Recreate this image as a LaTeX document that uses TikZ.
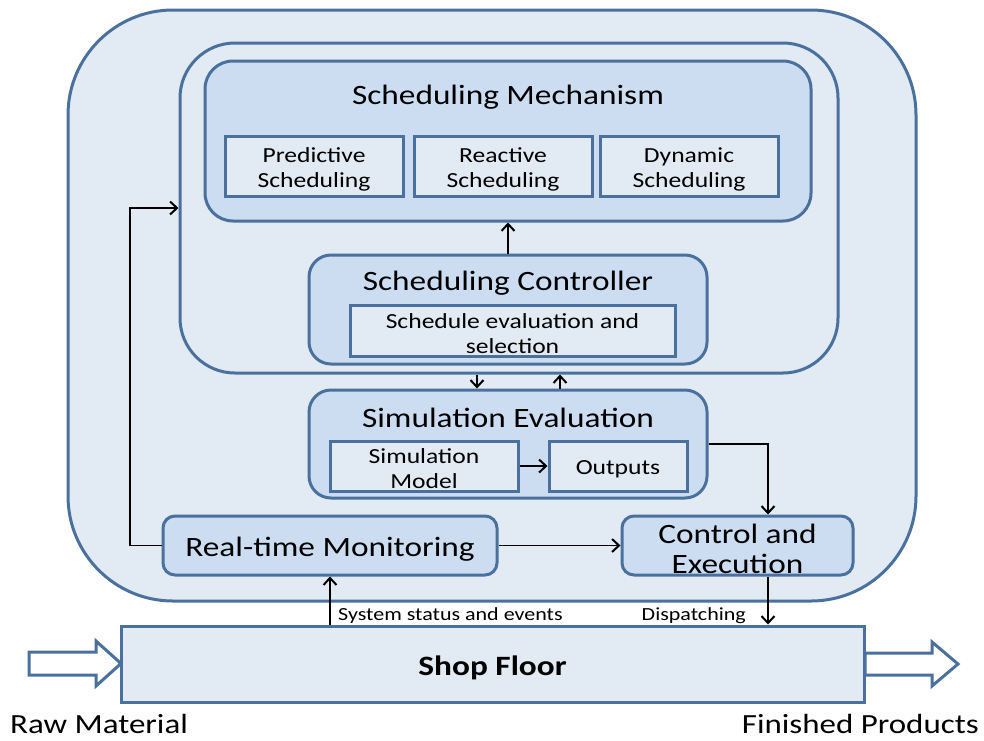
\documentclass[tikz,border=0pt]{standalone}
\usepackage{fontspec}
\setmainfont{Carlito}[FakeStretch=1.19]
\usetikzlibrary{arrows.meta,calc}

\definecolor{edgeblue}{RGB}{74,112,157}
\definecolor{paleblue}{RGB}{226,234,243}
\definecolor{boxblue}{RGB}{204,221,242}

\begin{document}
\begin{tikzpicture}[x=1pt,y=-1pt,
  panel/.style={draw=edgeblue,line width=3pt,fill=boxblue,inner sep=0pt},
  subbox/.style={draw=edgeblue,line width=3pt,fill=paleblue,inner sep=0pt},
  bigtxt/.style={font=\fontsize{28}{30}\selectfont,align=center,inner sep=0pt},
  midtxt/.style={font=\fontsize{21.5}{25}\selectfont,align=center,inner sep=0pt},
  smalltxt/.style={font=\fontsize{18.5}{20}\selectfont,inner sep=0pt},
  flowtxt/.style={font=\fontsize{27.7}{30}\selectfont,inner sep=0pt},
  conn/.style={line width=1.5pt,-{Straight Barb[length=7pt,width=13pt,line width=2pt]}},
  blockarrow/.style={draw=edgeblue,line width=3pt,fill=white,line join=miter}
]
\useasboundingbox (0,0) rectangle (984,740);

% enclosing system and scheduling area
\node[draw=edgeblue,line width=3pt,fill=paleblue,rounded corners=105pt,
  minimum width=848pt,minimum height=591pt] (outer) at (492,305.5) {};
\node[draw=edgeblue,line width=3pt,fill=paleblue,rounded corners=55pt,
  minimum width=658pt,minimum height=330pt] (area) at (509,208) {};

% scheduling mechanism
\node[panel,rounded corners=28pt,minimum width=606pt,minimum height=160pt] (mech) at (508,141) {};
\node[bigtxt] (mechtitle) at (508,97) {Scheduling Mechanism};
\node[subbox,minimum width=178pt,minimum height=60pt] (pred) at (314,166) {};
\node[subbox,minimum width=178pt,minimum height=60pt] (react) at (503,166) {};
\node[subbox,minimum width=178pt,minimum height=60pt] (dyn) at (689,166) {};
\node[midtxt] (predtxt) at (314,169) {Predictive\\Scheduling};
\node[midtxt] (reacttxt) at (503,169) {Reactive\\Scheduling};
\node[midtxt] (dyntxt) at (689,169) {Dynamic\\Scheduling};

% scheduling controller
\node[panel,rounded corners=22pt,minimum width=398pt,minimum height=109pt] (ctrl) at (508,309.5) {};
\node[bigtxt] (ctrltitle) at (508,283) {Scheduling Controller};
\node[subbox,minimum width=325pt,minimum height=51pt] (sel) at (512.5,330.5) {};
\node[midtxt] (seltxt) at (512.5,333.5) {Schedule evaluation and\\selection};

% simulation evaluation
\node[panel,rounded corners=22pt,minimum width=398pt,minimum height=108pt] (sim) at (508,444) {};
\node[bigtxt] (simtitle) at (508,418) {Simulation Evaluation};
\node[subbox,minimum width=188pt,minimum height=50pt] (model) at (424,466) {};
\node[subbox,minimum width=138pt,minimum height=50pt] (outp) at (618,466) {};
\node[midtxt] (modeltxt) at (424,469) {Simulation\\Model};
\node[midtxt] (outptxt) at (618,469) {Outputs};

% monitoring and execution
\node[panel,rounded corners=12pt,minimum width=334pt,minimum height=59pt] (rtm) at (330,545.5) {};
\node[panel,rounded corners=12pt,minimum width=231pt,minimum height=59pt] (exec) at (737.5,545.5) {};
\node[bigtxt] (rtmtxt) at (330,549) {Real-time Monitoring};
\node[bigtxt] (exectxt) at (737.5,548.5) {Control and\\Execution};

% shop floor
\node[draw=edgeblue,line width=3pt,fill=paleblue,minimum width=743pt,minimum height=76pt] (shop) at (492.5,664) {};
\node[bigtxt,font=\fontsize{28}{30}\selectfont\bfseries] (shoptxt) at (492.5,668) {Shop Floor};

% material flow arrows
\draw[blockarrow] (29,652) -- (96,652) -- (96,641) -- (121,663.5) -- (96,686) -- (96,675) -- (29,675) -- cycle;
\draw[blockarrow] (865,653) -- (932,653) -- (932,642) -- (958,664) -- (932,686) -- (932,675) -- (865,675) -- cycle;
\node[flowtxt,anchor=base west] (raw) at (10,733) {Raw Material};
\node[flowtxt,anchor=base east] (fin) at (979,733) {Finished Products};

% information flow
\coordinate (dn) at (477,0);
\coordinate (up) at (560,0);
\coordinate (cx) at (768,0);
\coordinate (fb) at (130,0);
\draw[conn] (ctrl.north) -- (ctrl.north |- mech.south);
\draw[conn] (dn |- area.south) -- (dn |- sim.north);
\draw[conn] (up |- sim.north) -- (up |- area.south);
\draw[conn] (model.east) -- (outp.west);
\draw[conn] (sim.east) -| (cx |- exec.north);
\draw[conn] (rtm.east) -- (exec.west);
\draw[conn] (rtm.west) -| (fb |- area.west) -- (area.west);
\draw[conn] (rtm.south |- shop.north) -- (rtm.south);
\draw[conn] (cx |- exec.south) -- (cx |- shop.north);
\node[smalltxt,anchor=west] (status) at (338,616) {System status and events};
\node[smalltxt,anchor=east] (disp) at (746,616) {Dispatching};
\end{tikzpicture}
\end{document}
